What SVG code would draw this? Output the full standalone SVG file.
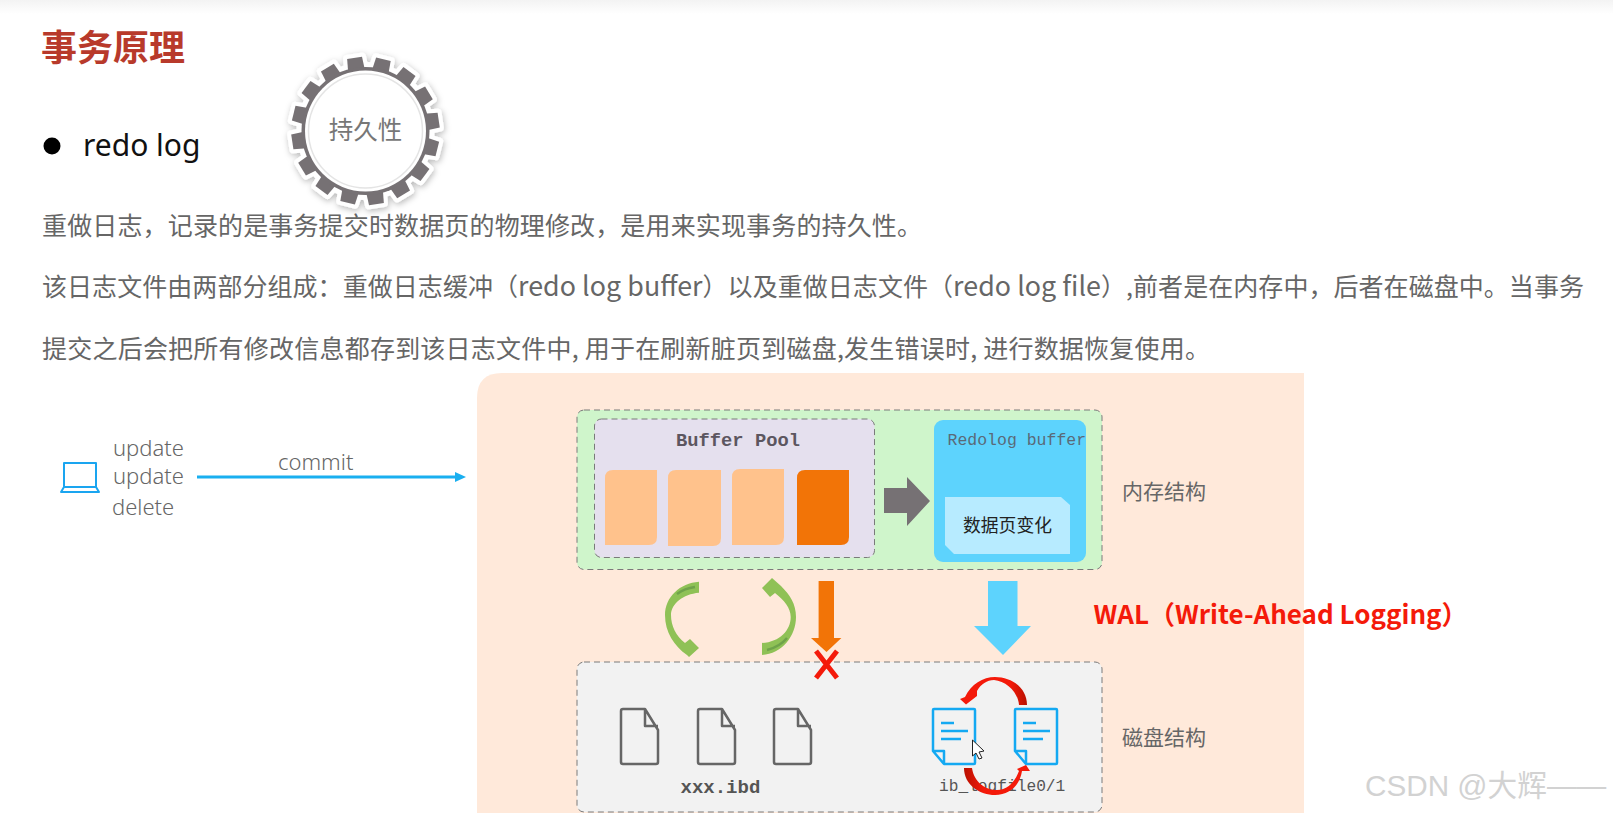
<svg xmlns="http://www.w3.org/2000/svg" xmlns:xlink="http://www.w3.org/1999/xlink" width="1613" height="813" viewBox="0 0 1613 813">
<style>
.cn{font-family:"Noto Sans CJK SC","Noto Sans",sans-serif}
.body{font-size:25px;fill:#666}
.big{font-size:26.800px}
.lat{font-family:"Noto Sans","Noto Sans CJK SC",sans-serif;font-weight:300;font-size:22px;fill:#666}
.mono{font-family:"Liberation Mono",monospace}
.dash{stroke:#7a7a7a;stroke-width:1;stroke-dasharray:6 4}
.file{fill:none;stroke:#666;stroke-width:2.5;stroke-linejoin:round}
.blue{fill:none;stroke:#14a9f2;stroke-width:2.5;stroke-linejoin:round}
.gr{fill:#8fc156}.grd{fill:none;stroke:#6fa34a;stroke-width:2.5}
</style>
<defs>
<linearGradient id="top" x1="0" y1="0" x2="0" y2="1"><stop offset="0" stop-color="#f3f3f3"/><stop offset="1" stop-color="#fff"/></linearGradient>
<linearGradient id="r1" x1="0" y1="0" x2="1" y2="0"><stop offset="0" stop-color="#f41a0a"/><stop offset=".75" stop-color="#f41a0a"/><stop offset="1" stop-color="#b81000"/></linearGradient>
<linearGradient id="r2" x1="0" y1="0" x2="1" y2="0"><stop offset="0" stop-color="#b81000"/><stop offset=".3" stop-color="#f41a0a"/><stop offset="1" stop-color="#f41a0a"/></linearGradient>
<polygon id="tooth" points="-8.500,-60 -7.500,-74 7.500,-74 8.500,-60"/>
<filter id="sh" x="-20%" y="-20%" width="140%" height="140%"><feDropShadow dx="1" dy="2" stdDeviation="3" flood-color="#000" flood-opacity=".28"/></filter>
<g id="teeth">
<use xlink:href="#tooth" transform="rotate(14)"/><use xlink:href="#tooth" transform="rotate(36.500)"/><use xlink:href="#tooth" transform="rotate(59)"/><use xlink:href="#tooth" transform="rotate(81.500)"/><use xlink:href="#tooth" transform="rotate(104)"/><use xlink:href="#tooth" transform="rotate(126.500)"/><use xlink:href="#tooth" transform="rotate(149)"/><use xlink:href="#tooth" transform="rotate(171.500)"/><use xlink:href="#tooth" transform="rotate(194)"/><use xlink:href="#tooth" transform="rotate(216.500)"/><use xlink:href="#tooth" transform="rotate(239)"/><use xlink:href="#tooth" transform="rotate(261.500)"/><use xlink:href="#tooth" transform="rotate(284)"/><use xlink:href="#tooth" transform="rotate(306.500)"/><use xlink:href="#tooth" transform="rotate(329)"/><use xlink:href="#tooth" transform="rotate(351.500)"/>
</g>
<path id="gfile" class="file" d="M2,0 H24 L37,21 V53 Q37,55 35,55 H2 Q0,55 0,53 V2 Q0,0 2,0 Z M24,0 V17 H37"/>
<path id="bfile" class="blue" d="M1,0 H41 Q42,0 42,1 V54 Q42,55 41,55 H11 L0,42 V1 Q0,0 1,0 Z M0,42 H11 V55 M8,14 H21 M8,22 H35 M8,30 H28"/>
</defs>

<rect width="1613" height="813" fill="#fff"/>
<rect width="1613" height="14" fill="url(#top)"/>

<text class="cn" x="41" y="61" font-size="36" font-weight="700" fill="#b83a2b">事务原理</text>
<circle cx="52" cy="146" r="8.500" fill="#000"/>
<text x="83" y="156" font-family="Noto Sans,sans-serif" font-size="30" fill="#111">redo log</text>

<g id="gear" transform="translate(365.500 131)">
<g filter="url(#sh)"><use xlink:href="#teeth" fill="#fff" stroke="#fff" stroke-width="8" stroke-linejoin="round"/><circle r="69" fill="#fff"/></g>
<use xlink:href="#teeth" fill="#767174"/>
<circle r="64" fill="#767174"/>
<circle r="60.500" fill="#fff"/>
<circle r="57" fill="#fff" stroke="#e4e4e4" stroke-width="1.500"/>
<text class="cn" y="8" text-anchor="middle" font-size="24.500" fill="#777">持久性</text>
</g>

<text class="cn body" x="42" y="235" textLength="880">重做日志&#xFF0C;记录的是事务提交时数据页的物理修改&#xFF0C;是用来实现事务的持久性。</text>
<text class="cn body" x="42" y="296" textLength="1542">该日志文件由两部分组成&#xFF1A;重做日志缓冲&#xFF08;<tspan class="big">redo log buffer</tspan>&#xFF09;以及重做日志文件&#xFF08;<tspan class="big">redo log file</tspan>&#xFF09;,前者是在内存中&#xFF0C;后者在磁盘中。当事务</text>
<text class="cn body" x="42" y="358" textLength="1168">提交之后会把所有修改信息都存到该日志文件中, 用于在刷新脏页到磁盘,发生错误时, 进行数据恢复使用。</text>

<path id="panel" d="M502,373 H1304 V813 H477 V398 Q477,373 502,373 Z" fill="#ffe9da"/>

<g id="client">
<path d="M64,463 H96 V487 H64 Z M64,487 L61,492 H99 L96,487" fill="none" stroke="#1aa5f0" stroke-width="2" stroke-linejoin="round"/>
<text class="lat" x="113" y="456">update</text>
<text class="lat" x="113" y="484">update</text>
<text class="lat" x="112" y="515">delete</text>
</g>

<g id="memory">
<rect x="577" y="410" width="525" height="159.500" rx="7" fill="#cff5cb" class="dash"/>
<rect x="594.500" y="419" width="280" height="138.500" rx="7" fill="#e5e0ee" class="dash"/>
<path d="M613,470 H657 V537 Q657,545 649,545 H605 V478 Q605,470 613,470 Z" fill="#ffc28c"/>
<path d="M676,470 H721 V538 Q721,546 713,546 H668 V478 Q668,470 676,470 Z" fill="#ffc28c"/>
<path d="M740,469 H784 V537 Q784,545 776,545 H732 V477 Q732,469 740,469 Z" fill="#ffc28c"/>
<path d="M805,470 H849 V537 Q849,545 841,545 H797 V478 Q797,470 805,470 Z" fill="#f27407"/>
<text class="mono" x="676" y="446" font-size="18.800" font-weight="700" fill="#5c5660">Buffer Pool</text>
<path d="M884,488 H907 V477 L930,501 L907,526 V513 H884 Z" fill="#767174"/>
<rect x="934" y="420" width="152" height="142" rx="9" fill="#5dd3fd"/>
<path d="M945,497 H1061 L1070,505 V554 H954 L945,545 Z" fill="#b7ebff"/>
<text class="mono" x="947.500" y="445" font-size="16.500" fill="#5a6a78">Redolog buffer</text>
<text class="cn" x="1007.500" y="532" text-anchor="middle" font-size="17.800" fill="#222">数据页变化</text>
<text class="cn" x="1122" y="499" font-size="21" fill="#666">内存结构</text>
</g>

<g id="disk">
<rect x="577" y="662" width="525" height="150" rx="7" fill="#f2f2f2" class="dash"/>
<use xlink:href="#gfile" x="621" y="709"/>
<use xlink:href="#gfile" x="698" y="709"/>
<use xlink:href="#gfile" x="774" y="709"/>
<text class="mono" x="680.500" y="793" font-size="19" font-weight="700" fill="#555">xxx.ibd</text>
<use xlink:href="#bfile" x="933" y="709"/>
<use xlink:href="#bfile" x="1015" y="709"/>
<text class="mono" x="939" y="791" font-size="16.200" fill="#555">ib_logfile0/1</text>
<text class="cn" x="1122" y="745" font-size="21" fill="#666">磁盘结构</text>
</g>

<g id="connectors">
<path d="M197,477 H456" stroke="#1aaff0" stroke-width="3" fill="none"/>
<path d="M455,472 L466,477 L455,482 Z" fill="#1aaff0"/>
<text class="lat" x="278" y="470">commit</text>
<path class="gr" d="M699,581.700 C680,583 665,597 665,615 C665,632 674,646 687,655 L689,657 L699,648 L690,639 L685,643 C676,636 671,626 671,615 C671,604 683,594 699,592.700 Z"/>
<path class="grd" d="M695,587 C687,588 681,591 677,594"/>
<path class="gr" d="M762,655 C782,654 796,636 796,617 C796,604 790,595 781,586 L772,578 L762,588 L770,597 L775,593 C784,600 790.700,608 790.700,617 C790.700,630 780,642 762,643 Z"/>
<path class="grd" d="M767,650 C775,648 782,644 787,638"/>
<path d="M818.600,581 H834 V638 H841.400 L826.500,652 L811,638 H818.600 Z" fill="#f27407"/>
<path d="M816,651 L837,678 M837,651 L816,678" stroke="#f41a0a" stroke-width="5" fill="none"/>
<path d="M988,581 H1017.500 V626 H1031 L1003,655 L974,626 H988 Z" fill="#5dd3fd"/>
<path fill="url(#r1)" d="M1019,705 C1018,692 1006,681 994,680 C987,680 981,684 977,691 L977,696 L966,704.500 L960,699 L965,697 C971,684 983,677 995,677 C1012,677 1027,688 1027,705 Z"/>
<path fill="url(#r2)" d="M964,768 C964,785 980,795 995,795 C1010,795 1020,785 1022,771 L1030,771 L1026,765 L1017,769 L1019,771 C1014,784 1006,790 997,790 C985,790 974,782 972,768 Z"/>
</g>

<path id="cursor" d="M972.500,740 V756 L976,753 L979,759 L982,758 L979,752 L984,751 Z" fill="#fff" stroke="#222" stroke-width="1"/>

<text class="cn" x="1093.500" y="624" font-size="26" font-weight="700" fill="#f41a0a">WAL&#xFF08;Write-Ahead Logging&#xFF09;</text>
<text x="1365" y="795.500" font-family="Liberation Sans,Noto Sans CJK SC,sans-serif" font-size="29.700" fill="#d2d2d2">CSDN @大辉——</text>
</svg>
